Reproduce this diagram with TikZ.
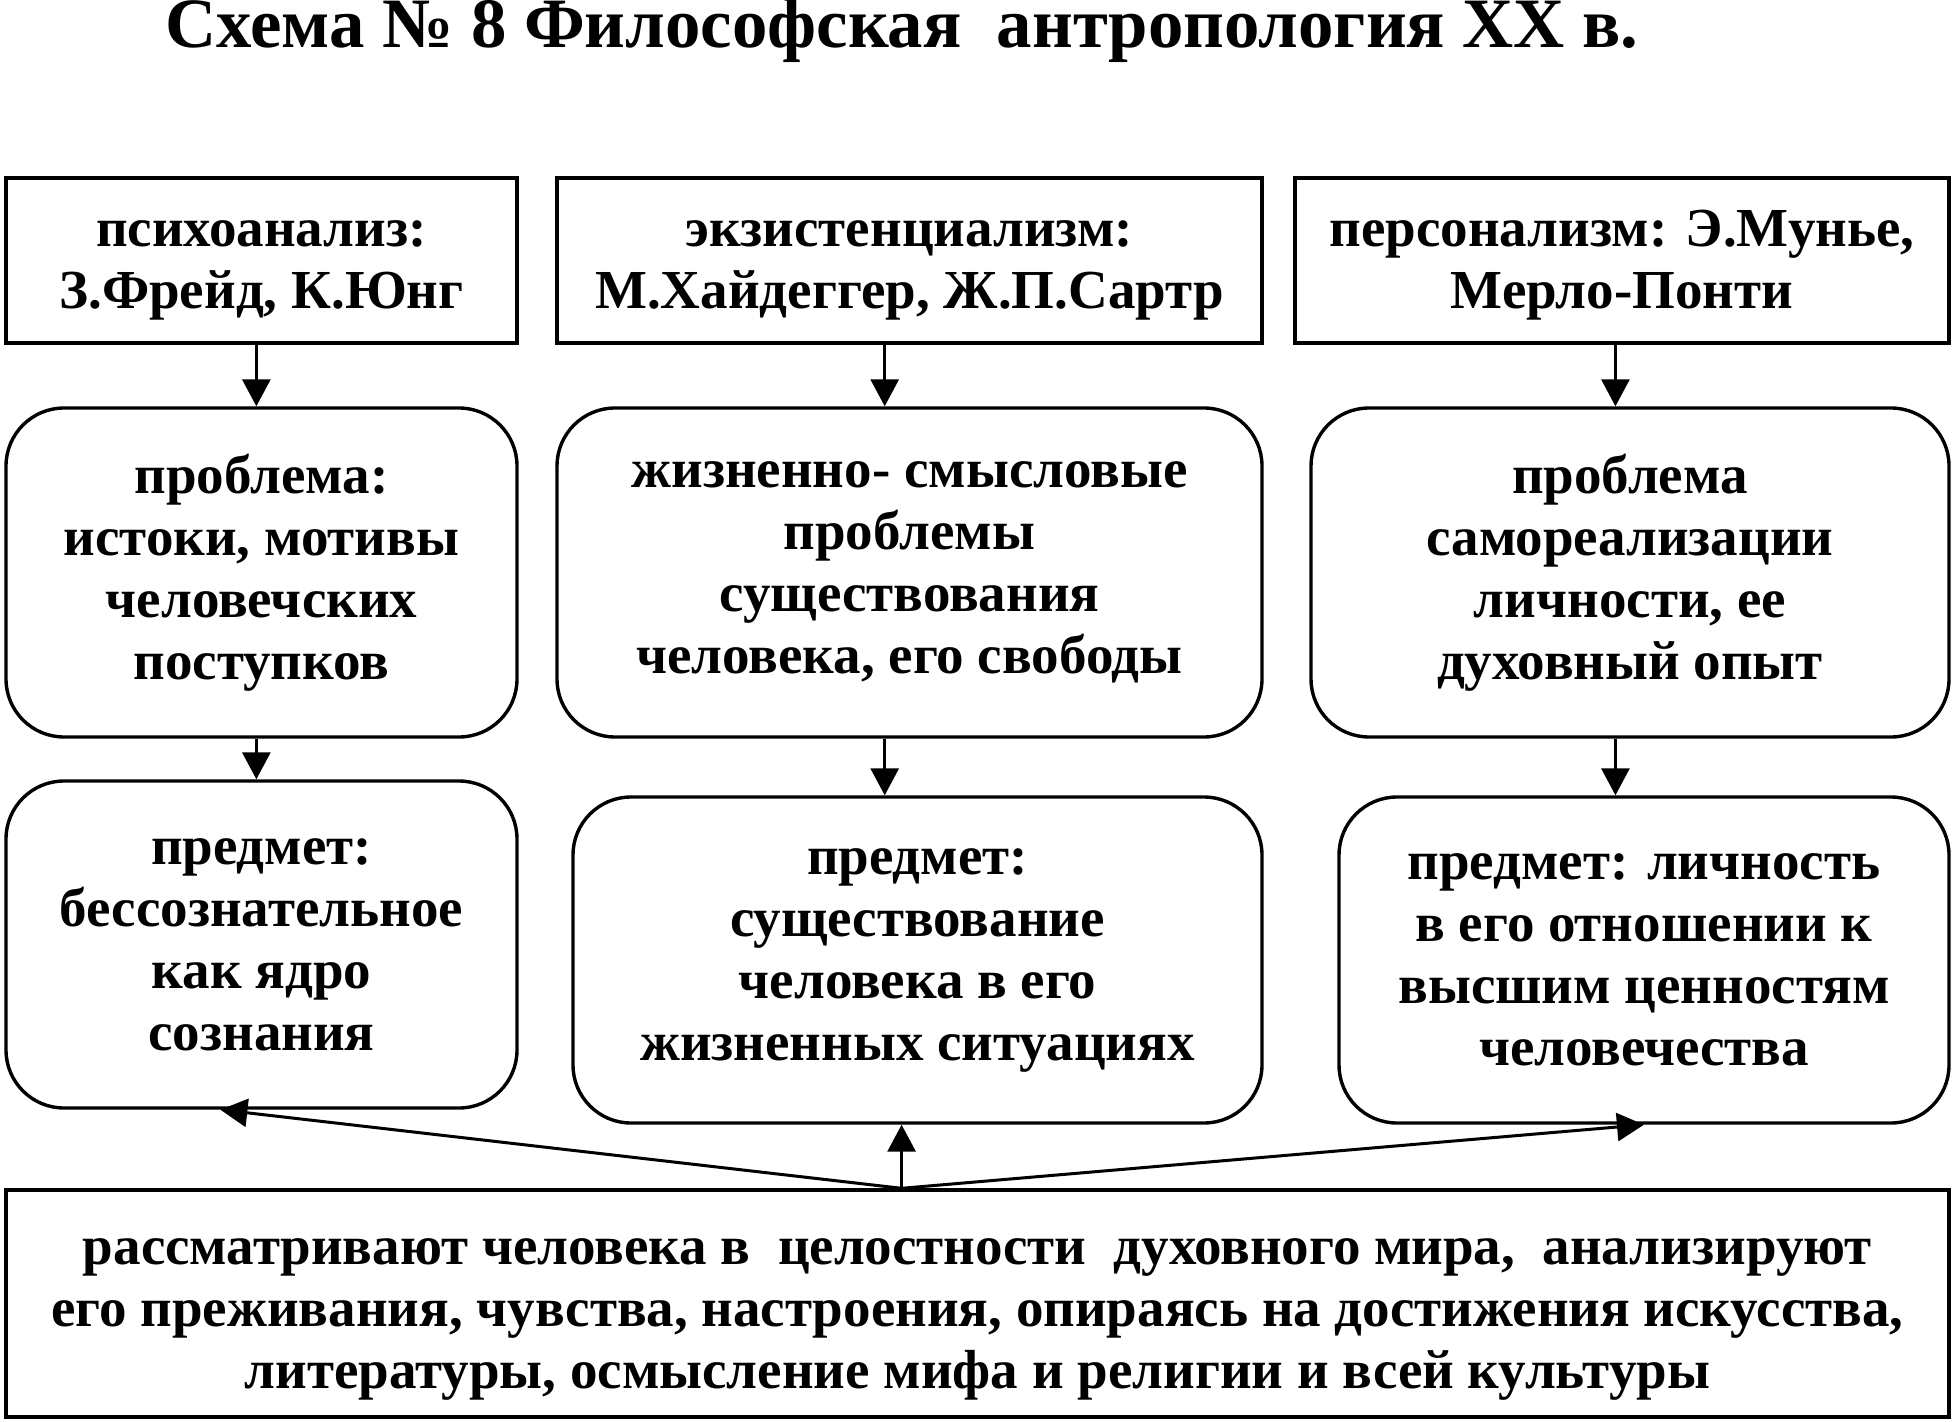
\documentclass[tikz,border=0pt]{standalone}
\usepackage{fontspec}
\setmainfont{Liberation Serif}
\usetikzlibrary{arrows.meta,calc}
\newcommand{\topstrut}{\rule{0pt}{23pt}}
\begin{document}
\begin{tikzpicture}[x=0.5pt,y=-0.5pt,
  txt/.style={font=\fontsize{27.5}{31}\selectfont\bfseries, align=center, inner sep=0pt},
  sqbox/.style={txt, draw, line width=1.7pt, rectangle},
  rbox/.style={txt, draw, line width=1.7pt, rectangle, rounded corners=29pt},
  arr/.style={line width=1.5pt, -{Triangle[length=13.5pt,width=14pt]}}]
\useasboundingbox (0,0) rectangle (1953,1422);
\fill[white] (0,0) rectangle (1953,1422);
\node[font=\fontsize{35.4}{42}\selectfont\bfseries, anchor=base, inner sep=0pt] (title) at (902,48)
  {Схема № 8 Философская\ \ антропология XX в.};
% row 1
\node[sqbox, minimum width=255.5pt, minimum height=82.5pt] (a1) at (261.5,260.5)
  {\topstrut психоанализ:\\З.Фрейд, К.Юнг};
\node[sqbox, minimum width=352.5pt, minimum height=82.5pt] (b1) at (909.5,260.5)
  {\topstrut экзистенциализм:\\М.Хайдеггер, Ж.П.Сартр};
\node[sqbox, minimum width=327pt, minimum height=82.5pt] (c1) at (1622,260.5)
  {\topstrut персонализм: Э.Мунье,\\Мерло-Понти};
% row 2
\node[rbox, minimum width=255.5pt, minimum height=164.5pt] (a2) at (261.5,572.5)
  {проблема:\\истоки, мотивы\\человечских\\поступков};
\node[rbox, minimum width=352.5pt, minimum height=164.5pt] (b2) at (909.5,572.5)
  {жизненно- смысловые\\проблемы\\существования\\человека, его свободы};
\node[rbox, minimum width=319pt, minimum height=164.5pt] (c2) at (1630,572.5)
  {проблема\\самореализации\\личности, ее\\духовный опыт};
% row 3
\node[rbox, minimum width=255.5pt, minimum height=163.5pt] (a3) at (261.5,944.5)
  {предмет:\\бессознательное\\как ядро\\сознания};
\node[rbox, minimum width=344.5pt, minimum height=163pt] (b3) at (917.5,960)
  {предмет:\\существование\\человека в его\\жизненных ситуациях};
\node[rbox, minimum width=305pt, minimum height=163pt] (c3) at (1644,960)
  {предмет: личность\\в его отношении к\\высшим ценностям\\человечества};
% bottom
\node[sqbox, minimum width=971.5pt, minimum height=113.5pt] (d) at (977.5,1303.5)
  {\rule{0pt}{29pt}рассматривают человека в\ \ целостности\ \ духовного мира,\ \ анализируют\\
   его преживания, чувства, настроения, опираясь на достижения искусства,\\
   литературы, осмысление мифа и религии и всей культуры};
% arrows
\coordinate (pa) at ($(a1.south west)!0.49!(a1.south east)$);
\coordinate (pb) at ($(b1.south west)!0.465!(b1.south east)$);
\coordinate (pc) at ($(c1.south west)!0.49!(c1.south east)$);
\draw[arr] (pa) -- (pa |- a2.north);
\draw[arr] (pb) -- (pb |- b2.north);
\draw[arr] (pc) -- (pc |- c2.north);
\draw[arr] (a2.south -| pa) -- (pa |- a3.north);
\draw[arr] (b2.south -| pb) -- (pb |- b3.north);
\draw[arr] (c2.south -| pc) -- (pc |- c3.north);
\coordinate (o) at ($(d.north west)!0.461!(d.north east)$);
\coordinate (ta) at ($(a3.south west)!0.42!(a3.south east)$);
\draw[arr] (o) -- (o |- b3.south);
\draw[arr] (o) -- (ta);
\draw[arr] (o) -- (c3.south);
\end{tikzpicture}
\end{document}
